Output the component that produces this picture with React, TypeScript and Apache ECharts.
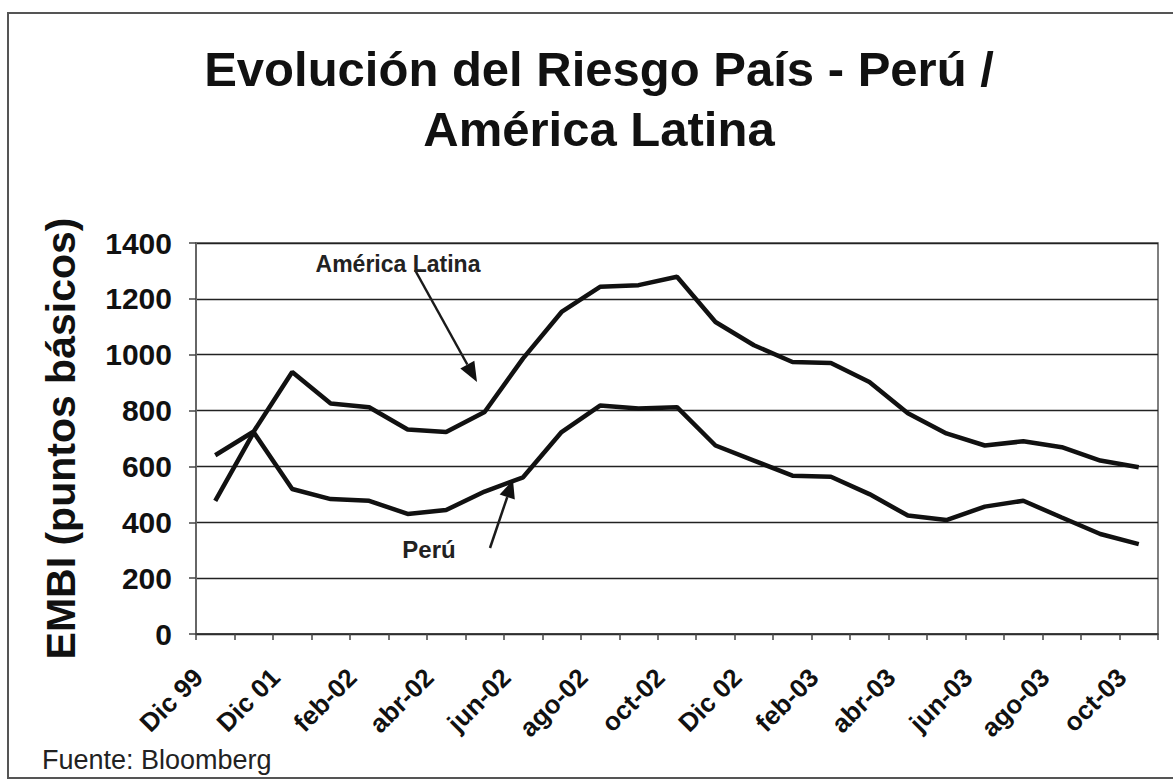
import React, { useEffect, useRef } from "react";
import * as echarts from "echarts";

const categories = [
  "Dic 99", "Dic 00", "Dic 01", "ene-02", "feb-02", "mar-02", "abr-02", "may-02",
  "jun-02", "jul-02", "ago-02", "sep-02", "oct-02", "nov-02", "Dic 02", "ene-03",
  "feb-03", "mar-03", "abr-03", "may-03", "jun-03", "jul-03", "ago-03", "sep-03", "oct-03",
];

const americaLatina = [
  640, 725, 938, 825, 812, 732, 723, 795, 987, 1153, 1243, 1249, 1279,
  1117, 1034, 974, 970, 902, 790, 718, 675, 690, 669, 621, 597,
];

const peru = [
  477, 722, 519, 483, 477, 430, 444, 510, 561, 723, 818, 807, 812,
  675, 621, 567, 563, 501, 424, 408, 456, 477, 417, 358, 322,
];

const yTicks = { min: 0, max: 1400, interval: 200 };

const titleText = "Evolución del Riesgo País - Perú /\nAmérica Latina";
const yAxisName = "EMBI (puntos básicos)";
const sourceText = "Fuente: Bloomberg";
const seriesNames = ["América Latina", "Perú"];

const FONT = "'Liberation Sans', Arial, Helvetica, sans-serif";

function arrow(x1: number, y1: number, x2: number, y2: number, len: number, half: number) {
  const dx = x2 - x1;
  const dy = y2 - y1;
  const d = Math.sqrt(dx * dx + dy * dy);
  const ux = dx / d;
  const uy = dy / d;
  const bx = x2 - ux * len;
  const by = y2 - uy * len;
  const px = -uy * half;
  const py = ux * half;
  return [
    {
      type: "line",
      shape: { x1, y1, x2: bx, y2: by },
      style: { stroke: "#1a1a1a", lineWidth: 2.5 },
    },
    {
      type: "polygon",
      shape: {
        points: [
          [x2, y2],
          [bx + px, by + py],
          [bx - px, by - py],
        ],
      },
      style: { fill: "#111" },
    },
  ];
}

export default function App() {
  const ref = useRef<HTMLDivElement>(null);

  useEffect(() => {
    if (!ref.current) return;
    const chart = echarts.init(ref.current, null, { renderer: "svg" });
    chart.setOption({
      animation: false,
      backgroundColor: "#ffffff",
      title: {
        text: titleText,
        left: 594,
        top: 34,
        textAlign: "center",
        textStyle: {
          fontFamily: FONT,
          fontSize: 49,
          fontWeight: "bold",
          color: "#111",
          lineHeight: 60,
        },
      },
      grid: {
        left: 196,
        right: 15,
        top: 243,
        bottom: 149,
        show: true,
        borderColor: "#555",
        borderWidth: 1.5,
        containLabel: false,
        outerBoundsMode: "none",
      },
      xAxis: {
        type: "category",
        data: categories,
        boundaryGap: true,
        axisLine: { show: true, lineStyle: { color: "#333", width: 1.5 } },
        axisTick: {
          show: true,
          interval: 0,
          alignWithLabel: false,
          length: 6,
          lineStyle: { color: "#444", width: 1.5 },
        },
        axisLabel: {
          interval: 1,
          rotate: 45,
          margin: 22,
          padding: [0, 24, 0, 0],
          fontFamily: FONT,
          fontSize: 26,
          fontWeight: "bold",
          color: "#111",
        },
        splitLine: { show: false },
      },
      yAxis: {
        type: "value",
        min: yTicks.min,
        max: yTicks.max,
        interval: yTicks.interval,
        name: yAxisName,
        nameLocation: "middle",
        nameRotate: 90,
        nameGap: 115,
        nameTextStyle: {
          fontFamily: FONT,
          fontSize: 41,
          fontWeight: "bold",
          color: "#111",
        },
        axisLine: { show: true, lineStyle: { color: "#666", width: 2 } },
        axisTick: { show: true, length: 7, lineStyle: { color: "#444", width: 1.5 } },
        axisLabel: {
          margin: 24,
          fontFamily: FONT,
          fontSize: 30,
          fontWeight: "bold",
          color: "#111",
          formatter: (v: number) => String(v),
        },
        splitLine: { show: true, lineStyle: { color: "#222", width: 1.3 } },
      },
      series: [
        {
          name: seriesNames[0],
          type: "line",
          data: americaLatina,
          symbol: "none",
          lineStyle: { color: "#111", width: 4.5 },
          z: 3,
        },
        {
          name: seriesNames[1],
          type: "line",
          data: peru,
          symbol: "none",
          lineStyle: { color: "#111", width: 4.5 },
          z: 3,
        },
      ],
      graphic: [
        {
          type: "rect",
          shape: { x: 8, y: 13, width: 1200, height: 765 },
          style: { fill: "none", stroke: "#555", lineWidth: 2 },
          silent: true,
        },
        {
          type: "text",
          x: 42,
          y: 760,
          style: {
            text: sourceText,
            font: `normal 27px ${FONT}`,
            fill: "#222",
            align: "left",
            verticalAlign: "middle",
          },
        },
        {
          type: "text",
          x: 398,
          y: 264,
          style: {
            text: seriesNames[0],
            font: `bold 23px ${FONT}`,
            fill: "#222",
            align: "center",
            verticalAlign: "middle",
          },
          z: 10,
        },
        {
          type: "text",
          x: 429,
          y: 549,
          style: {
            text: seriesNames[1],
            font: `bold 24px ${FONT}`,
            fill: "#222",
            align: "center",
            verticalAlign: "middle",
          },
          z: 10,
        },
        ...arrow(415, 270, 477, 382, 20, 8),
        ...arrow(490, 548, 513, 480, 18, 8),
      ],
    });
    return () => chart.dispose();
  }, []);

  return (
    <div
      ref={ref}
      style={{ position: "fixed", left: 0, top: 0, width: 1173, height: 783 }}
    />
  );
}
